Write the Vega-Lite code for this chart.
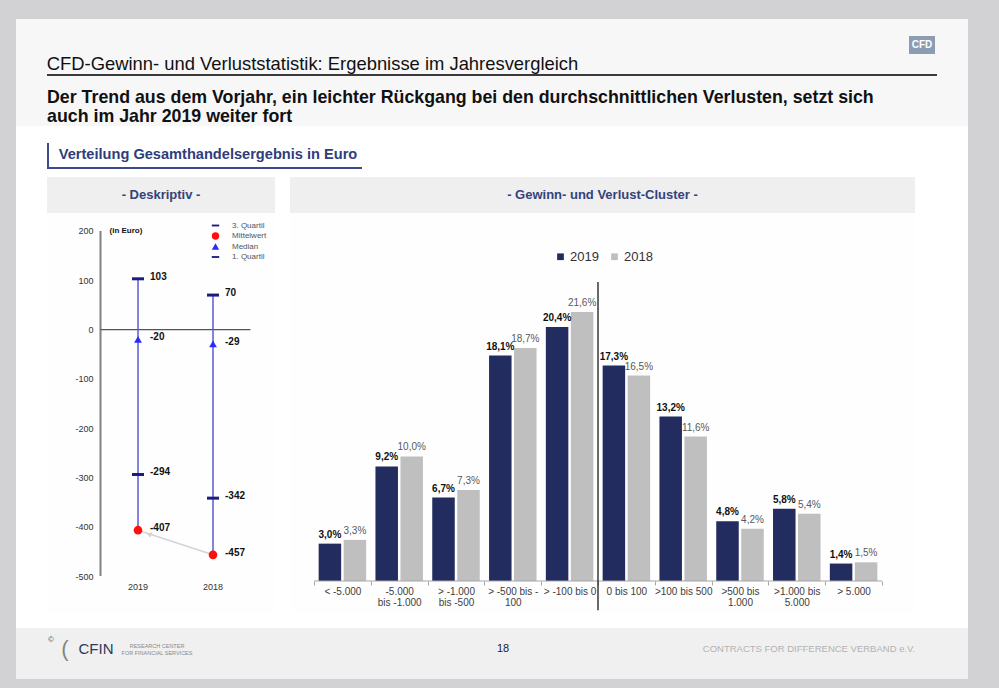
{
  "$schema": "https://vega.github.io/schema/vega-lite/v6.json",
  "background": "#d2d2d4",
  "padding": {"left": 16, "top": 19, "right": 31, "bottom": 9},
  "spacing": 0,
  "resolve": {"scale": {"color": "independent", "shape": "independent"}, "legend": {"color": "independent", "shape": "independent"}},
  "config": {
    "font": "Liberation Sans",
    "concat": {"spacing": 0},
    "view": {"stroke": null},
    "locale": {"number": {"decimal": ",", "thousands": ".", "grouping": [3], "currency": ["", " €"], "minus": "-"}}
  },
  "vconcat": [
    {"width": 952, "height": 17, "data": {"values": []}, "mark": "point", "view": {"fill": "#f7f7f8", "stroke": null}},
    {"spacing": 0, "hconcat": [
      {"width": 893, "height": 18, "data": {"values": []}, "mark": "point", "view": {"fill": "#f7f7f8", "stroke": null}},
      {"width": 26, "height": 18, "data": {"values": [{}]}, "mark": {"type": "text", "text": "CFD", "fontSize": 10, "fontWeight": "bold", "color": "white", "align": "center", "baseline": "middle"}, "view": {"fill": "#8c9db3", "stroke": null}},
      {"width": 33, "height": 18, "data": {"values": []}, "mark": "point", "view": {"fill": "#f7f7f8", "stroke": null}}
    ]},
    {"spacing": 0, "hconcat": [
      {"width": 593, "height": 20, "data": {"values": [{}]}, "mark": {"type": "text", "text": "CFD-Gewinn- und Verluststatistik: Ergebnisse im Jahresvergleich", "fontSize": 18.4, "color": "#111111", "align": "center", "baseline": "middle"}, "view": {"fill": "#f7f7f8", "stroke": null}},
      {"width": 359, "height": 20, "data": {"values": []}, "mark": "point", "view": {"fill": "#f7f7f8", "stroke": null}}
    ]},
    {"spacing": 0, "hconcat": [
      {"width": 31, "height": 2, "data": {"values": []}, "mark": "point", "view": {"fill": "#f7f7f8", "stroke": null}},
      {"width": 890, "height": 2, "data": {"values": []}, "mark": "point", "view": {"fill": "#3a3a3a", "stroke": null}},
      {"width": 31, "height": 2, "data": {"values": []}, "mark": "point", "view": {"fill": "#f7f7f8", "stroke": null}}
    ]},
    {"width": 952, "height": 12, "data": {"values": []}, "mark": "point", "view": {"fill": "#f7f7f8", "stroke": null}},
    {"width": 952, "height": 38, "data": {"values": [{}]}, "mark": {"type": "text", "text": ["Der Trend aus dem Vorjahr, ein leichter Rückgang bei den durchschnittlichen Verlusten, setzt sich", "auch im Jahr 2019 weiter fort"], "fontSize": 17.8, "lineHeight": 18.6, "fontWeight": "bold", "color": "#111111", "align": "left", "baseline": "middle", "dx": -445, "dy": -9}, "view": {"fill": "#f7f7f8", "stroke": null}},
    {"width": 952, "height": 17, "data": {"values": []}, "mark": "point", "view": {"fill": "white", "stroke": null}},
    {"spacing": 0, "hconcat": [
      {"width": 31, "height": 24, "data": {"values": []}, "mark": "point", "view": {"fill": "white", "stroke": null}},
      {"width": 2, "height": 24, "data": {"values": []}, "mark": "point", "view": {"fill": "#3d4b8e", "stroke": null}},
      {"width": 318, "height": 24, "data": {"values": [{}]}, "mark": {"type": "text", "text": "Verteilung Gesamthandelsergebnis in Euro", "fontSize": 14.6, "fontWeight": "bold", "color": "#2f3d7c", "align": "center", "baseline": "middle"}, "view": {"fill": "white", "stroke": null}},
      {"width": 601, "height": 24, "data": {"values": []}, "mark": "point", "view": {"fill": "white", "stroke": null}}
    ]},
    {"spacing": 0, "hconcat": [
      {"width": 31, "height": 2, "data": {"values": []}, "mark": "point", "view": {"fill": "white", "stroke": null}},
      {"width": 315, "height": 2, "data": {"values": []}, "mark": "point", "view": {"fill": "#3d4b8e", "stroke": null}},
      {"width": 606, "height": 2, "data": {"values": []}, "mark": "point", "view": {"fill": "white", "stroke": null}}
    ]},
    {"width": 952, "height": 8, "data": {"values": []}, "mark": "point", "view": {"fill": "white", "stroke": null}},
    {"spacing": 0,
     "resolve": {"scale": {"color": "independent", "shape": "independent"}, "legend": {"color": "independent", "shape": "independent"}},
     "hconcat": [
      {"width": 31, "height": 436, "data": {"values": []}, "mark": "point", "view": {"fill": "white", "stroke": null}},
      {"spacing": 0,
       "resolve": {"scale": {"color": "independent", "shape": "independent"}, "legend": {"color": "independent", "shape": "independent"}},
       "vconcat": [
        {"width": 228, "height": 36, "data": {"values": [{}]}, "mark": {"type": "text", "text": "- Deskriptiv -", "fontSize": 13, "fontWeight": "bold", "color": "#34437a", "align": "center", "baseline": "middle"}, "view": {"fill": "#efefef", "stroke": null}},
        {
          "width": 228, "height": 400,
          "view": {"fill": "#fefefe", "stroke": null},
          "data": {"values": [
            {"jahr": "2019", "kennzahl": "3. Quartil", "wert": 103},
            {"jahr": "2019", "kennzahl": "Mittelwert", "wert": -407},
            {"jahr": "2019", "kennzahl": "Median", "wert": -20},
            {"jahr": "2019", "kennzahl": "1. Quartil", "wert": -294},
            {"jahr": "2018", "kennzahl": "3. Quartil", "wert": 70},
            {"jahr": "2018", "kennzahl": "Mittelwert", "wert": -457},
            {"jahr": "2018", "kennzahl": "Median", "wert": -29},
            {"jahr": "2018", "kennzahl": "1. Quartil", "wert": -342}
          ]},
          "encoding": {
            "x": {"field": "jahr", "type": "nominal", "sort": null,
              "scale": {"domain": ["2019", "2018"], "paddingInner": 0, "paddingOuter": 0.52, "align": 0.686},
              "axis": {"orient": "bottom", "offset": -31, "domain": false, "ticks": false, "tickSize": 0, "labelPadding": 0, "labelAngle": 0, "labelFontSize": 9, "labelColor": "#333333", "title": null}}
          },
          "layer": [
            {
              "data": {"values": [{}]},
              "mark": {"type": "rule", "color": "#808080", "strokeWidth": 2},
              "encoding": {
                "x": {"datum": "2019", "bandPosition": 0},
                "y": {"datum": -500, "scale": {"domain": [-575, 236.5], "nice": false, "zero": false},
                  "axis": {"values": [-500, -400, -300, -200, -100, 0, 100, 200], "orient": "left", "offset": -46, "domain": false, "ticks": false, "tickSize": 0, "grid": false, "labelPadding": 0, "labelFontSize": 9, "labelColor": "#333333", "title": null}},
                "y2": {"datum": 200}
              }
            },
            {
              "data": {"values": [{}]},
              "mark": {"type": "rule", "color": "#555555", "strokeWidth": 1.2},
              "encoding": {
                "x": {"datum": "2019", "bandPosition": 0},
                "x2": {"datum": "2018", "bandPosition": 1},
                "y": {"datum": 0, "scale": {"domain": [-575, 236.5], "nice": false, "zero": false}}
              }
            },
            {
              "transform": [{"filter": "datum.kennzahl == 'Mittelwert'"}],
              "mark": {"type": "line", "color": "#d4d4d4", "strokeWidth": 1.5},
              "encoding": {
                "y": {"field": "wert", "type": "quantitative", "scale": {"domain": [-575, 236.5], "nice": false, "zero": false}}
              }
            },
            {
              "transform": [{"filter": "datum.kennzahl == 'Mittelwert' && datum.jahr == '2019'"}],
              "mark": {"type": "point", "shape": "triangle-left", "filled": true, "color": "#d4d4d4", "opacity": 1, "size": 36, "angle": 18, "xOffset": 11, "yOffset": 4},
              "encoding": {
                "y": {"field": "wert", "type": "quantitative", "scale": {"domain": [-575, 236.5], "nice": false, "zero": false}}
              }
            },
            {
              "mark": {"type": "rule", "color": "#5b5bd6", "strokeWidth": 1.5},
              "encoding": {
                "y": {"aggregate": "max", "field": "wert", "type": "quantitative", "scale": {"domain": [-575, 236.5], "nice": false, "zero": false}},
                "y2": {"aggregate": "min", "field": "wert"}
              }
            },
            {
              "transform": [{"filter": "datum.kennzahl == '3. Quartil' || datum.kennzahl == '1. Quartil'"}],
              "mark": {"type": "point", "filled": true, "opacity": 1, "size": 144},
              "encoding": {
                "y": {"field": "wert", "type": "quantitative", "scale": {"domain": [-575, 236.5], "nice": false, "zero": false}},
                "shape": {"field": "kennzahl", "type": "nominal", "scale": {"domain": ["3. Quartil", "Mittelwert", "Median", "1. Quartil"], "range": ["M-1,-0.25H1V0.25H-1Z", "circle", "triangle-up", "M-1,-0.25H1V0.25H-1Z"]},
                  "legend": {"title": null, "orient": "top-right", "offset": 8, "padding": 0, "labelFontSize": 8, "labelColor": "#555555", "symbolSize": 55, "labelOffset": 12, "rowPadding": 1.5, "symbolOpacity": 1}},
                "color": {"field": "kennzahl", "type": "nominal", "scale": {"domain": ["3. Quartil", "Mittelwert", "Median", "1. Quartil"], "range": ["#1c1c80", "#ff1010", "#2a2aff", "#1c1c80"]},
                  "legend": {"title": null, "orient": "top-right", "offset": 8, "padding": 0, "labelFontSize": 8, "labelColor": "#555555", "symbolSize": 55, "labelOffset": 12, "rowPadding": 1.5, "symbolOpacity": 1}}
              }
            },
            {
              "transform": [{"filter": "datum.kennzahl == 'Median'"}],
              "mark": {"type": "point", "filled": true, "opacity": 1, "size": 60},
              "encoding": {
                "y": {"field": "wert", "type": "quantitative", "scale": {"domain": [-575, 236.5], "nice": false, "zero": false}},
                "shape": {"field": "kennzahl", "type": "nominal"},
                "color": {"field": "kennzahl", "type": "nominal"}
              }
            },
            {
              "transform": [{"filter": "datum.kennzahl == 'Mittelwert'"}],
              "mark": {"type": "point", "filled": true, "opacity": 1, "size": 75},
              "encoding": {
                "y": {"field": "wert", "type": "quantitative", "scale": {"domain": [-575, 236.5], "nice": false, "zero": false}},
                "shape": {"field": "kennzahl", "type": "nominal"},
                "color": {"field": "kennzahl", "type": "nominal"}
              }
            },
            {
              "mark": {"type": "text", "align": "left", "baseline": "middle", "dx": 12, "dy": -2, "fontSize": 10, "fontWeight": "bold", "color": "#111111"},
              "encoding": {
                "y": {"field": "wert", "type": "quantitative", "scale": {"domain": [-575, 236.5], "nice": false, "zero": false}},
                "text": {"field": "wert", "type": "quantitative", "format": "d"}
              }
            },
            {
              "data": {"values": [{}]},
              "mark": {"type": "text", "text": "(in Euro)", "align": "left", "baseline": "middle", "dx": 9, "fontSize": 8, "fontWeight": "bold", "color": "#111111"},
              "encoding": {
                "x": {"datum": "2019", "bandPosition": 0},
                "y": {"datum": 200, "scale": {"domain": [-575, 236.5], "nice": false, "zero": false}}
              }
            }
          ]
        }
      ]},
      {"width": 15, "height": 436, "data": {"values": []}, "mark": "point", "view": {"fill": "white", "stroke": null}},
      {"spacing": 0,
       "resolve": {"scale": {"color": "independent"}, "legend": {"color": "independent"}},
       "vconcat": [
        {"width": 625, "height": 36, "data": {"values": [{}]}, "mark": {"type": "text", "text": "- Gewinn- und Verlust-Cluster -", "fontSize": 13, "fontWeight": "bold", "color": "#34437a", "align": "center", "baseline": "middle"}, "view": {"fill": "#efefef", "stroke": null}},
        {
          "width": 625, "height": 400,
          "view": {"fill": "#fefefe", "stroke": null},
          "data": {"values": [
            {"cluster": "< -5.000", "jahr": "2019", "anteil": 0.030},
            {"cluster": "< -5.000", "jahr": "2018", "anteil": 0.033},
            {"cluster": "-5.000\nbis -1.000", "jahr": "2019", "anteil": 0.092},
            {"cluster": "-5.000\nbis -1.000", "jahr": "2018", "anteil": 0.100},
            {"cluster": "> -1.000\nbis -500", "jahr": "2019", "anteil": 0.067},
            {"cluster": "> -1.000\nbis -500", "jahr": "2018", "anteil": 0.073},
            {"cluster": "> -500 bis -\n100", "jahr": "2019", "anteil": 0.181},
            {"cluster": "> -500 bis -\n100", "jahr": "2018", "anteil": 0.187},
            {"cluster": "> -100 bis 0", "jahr": "2019", "anteil": 0.204},
            {"cluster": "> -100 bis 0", "jahr": "2018", "anteil": 0.216},
            {"cluster": "0 bis 100", "jahr": "2019", "anteil": 0.173},
            {"cluster": "0 bis 100", "jahr": "2018", "anteil": 0.165},
            {"cluster": ">100 bis 500", "jahr": "2019", "anteil": 0.132},
            {"cluster": ">100 bis 500", "jahr": "2018", "anteil": 0.116},
            {"cluster": ">500 bis\n1.000", "jahr": "2019", "anteil": 0.048},
            {"cluster": ">500 bis\n1.000", "jahr": "2018", "anteil": 0.042},
            {"cluster": ">1.000 bis\n5.000", "jahr": "2019", "anteil": 0.058},
            {"cluster": ">1.000 bis\n5.000", "jahr": "2018", "anteil": 0.054},
            {"cluster": "> 5.000", "jahr": "2019", "anteil": 0.014},
            {"cluster": "> 5.000", "jahr": "2018", "anteil": 0.015}
          ]},
          "encoding": {
            "x": {"field": "cluster", "type": "nominal", "sort": null,
              "scale": {"domain": ["< -5.000", "-5.000\nbis -1.000", "> -1.000\nbis -500", "> -500 bis -\n100", "> -100 bis 0", "0 bis 100", ">100 bis 500", ">500 bis\n1.000", ">1.000 bis\n5.000", "> 5.000"], "paddingInner": 0, "paddingOuter": 0.502, "align": 0.421},
              "axis": {"orient": "bottom", "offset": -32, "domain": false, "ticks": true, "tickBand": "extent", "tickSize": 4, "tickColor": "#a6a6a6", "labelPadding": 1, "labelAngle": 0, "labelFontSize": 10, "labelColor": "#404040", "labelLineHeight": 11, "labelOverlap": false, "labelLimit": 0, "labelExpr": "split(datum.label, '\\n')", "title": null}}
          },
          "layer": [
            {
              "mark": {"type": "bar"},
              "encoding": {
                "xOffset": {"field": "jahr", "type": "nominal", "sort": null, "scale": {"domain": ["2019", "2018"], "paddingInner": 0.1, "paddingOuter": 0.186}},
                "y": {"field": "anteil", "type": "quantitative", "scale": {"domain": [-0.0257, 0.2955], "nice": false, "zero": false}, "axis": null},
                "color": {"field": "jahr", "type": "nominal", "scale": {"domain": ["2019", "2018"], "range": ["#222c5e", "#bfbfbf"]},
                  "legend": {"title": null, "orient": "none", "legendX": 264, "legendY": 37, "direction": "horizontal", "padding": 0, "symbolType": "square", "symbolSize": 45, "labelFontSize": 13, "labelColor": "#333333", "labelOffset": 3, "columnPadding": 9}}
              }
            },
            {
              "transform": [{"filter": "datum.jahr == '2019'"}],
              "mark": {"type": "text", "baseline": "bottom", "dy": -4, "fontSize": 10, "fontWeight": "bold", "color": "#111111"},
              "encoding": {
                "xOffset": {"field": "jahr", "type": "nominal", "sort": null, "scale": {"domain": ["2019", "2018"], "paddingInner": 0.1, "paddingOuter": 0.186}},
                "y": {"field": "anteil", "type": "quantitative", "scale": {"domain": [-0.0257, 0.2955], "nice": false, "zero": false}, "axis": null},
                "text": {"field": "anteil", "type": "quantitative", "format": ".1%"}
              }
            },
            {
              "transform": [{"filter": "datum.jahr == '2018'"}],
              "mark": {"type": "text", "baseline": "bottom", "dy": -4, "fontSize": 10, "color": "#595959"},
              "encoding": {
                "xOffset": {"field": "jahr", "type": "nominal", "sort": null, "scale": {"domain": ["2019", "2018"], "paddingInner": 0.1, "paddingOuter": 0.186}},
                "y": {"field": "anteil", "type": "quantitative", "scale": {"domain": [-0.0257, 0.2955], "nice": false, "zero": false}, "axis": null},
                "text": {"field": "anteil", "type": "quantitative", "format": ".1%"}
              }
            },
            {
              "data": {"values": [{}]},
              "mark": {"type": "rule", "color": "#a6a6a6", "strokeWidth": 1},
              "encoding": {
                "x": {"datum": "< -5.000", "bandPosition": 0},
                "x2": {"datum": "> 5.000", "bandPosition": 1},
                "y": {"datum": 0, "scale": {"domain": [-0.0257, 0.2955], "nice": false, "zero": false}, "axis": null}
              }
            },
            {
              "data": {"values": [{}]},
              "mark": {"type": "rule", "color": "#1a1a1a", "strokeWidth": 1.3},
              "encoding": {
                "x": {"datum": "0 bis 100", "bandPosition": 0},
                "y": {"datum": 0.24, "scale": {"domain": [-0.0257, 0.2955], "nice": false, "zero": false}, "axis": null},
                "y2": {"datum": -0.0235}
              }
            }
          ]
        }
      ]},
      {"width": 53, "height": 436, "data": {"values": []}, "mark": "point", "view": {"fill": "white", "stroke": null}}
    ]},
    {"width": 952, "height": 15, "data": {"values": []}, "mark": "point", "view": {"fill": "white", "stroke": null}},
    {"width": 952, "height": 8, "data": {"values": []}, "mark": "point", "view": {"fill": "#f0f0f0", "stroke": null}},
    {"spacing": 0, "hconcat": [
      {"width": 31, "height": 26, "data": {"values": []}, "mark": "point", "view": {"fill": "#f0f0f0", "stroke": null}},
      {"width": 8, "height": 26, "data": {"values": [{}]}, "mark": {"type": "text", "text": "©", "fontSize": 8, "dy": -9, "color": "#555555", "align": "center", "baseline": "middle"}, "view": {"fill": "#f0f0f0", "stroke": null}},
      {"width": 20, "height": 26, "data": {"values": [{}]}, "mark": {"type": "text", "text": "(", "fontSize": 22, "color": "#7d8a80", "align": "center", "baseline": "middle"}, "view": {"fill": "#f0f0f0", "stroke": null}},
      {"width": 42, "height": 26, "data": {"values": [{}]}, "mark": {"type": "text", "text": "CFIN", "fontSize": 15, "color": "#2c3a5c", "align": "center", "baseline": "middle"}, "view": {"fill": "#f0f0f0", "stroke": null}},
      {"width": 80, "height": 26, "data": {"values": [{}]}, "mark": {"type": "text", "text": ["RESEARCH CENTER", "FOR FINANCIAL SERVICES"], "fontSize": 5.5, "lineHeight": 6.5, "dy": -3, "color": "#8a8a8a", "align": "center", "baseline": "middle"}, "view": {"fill": "#f0f0f0", "stroke": null}},
      {"width": 296, "height": 26, "data": {"values": []}, "mark": "point", "view": {"fill": "#f0f0f0", "stroke": null}},
      {"width": 20, "height": 26, "data": {"values": [{}]}, "mark": {"type": "text", "text": "18", "fontSize": 11, "color": "#222222", "align": "center", "baseline": "middle"}, "view": {"fill": "#f0f0f0", "stroke": null}},
      {"width": 187, "height": 26, "data": {"values": []}, "mark": "point", "view": {"fill": "#f0f0f0", "stroke": null}},
      {"width": 218, "height": 26, "data": {"values": [{}]}, "mark": {"type": "text", "text": "CONTRACTS FOR DIFFERENCE VERBAND e.V.", "fontSize": 9.5, "color": "#b2b2b2", "align": "center", "baseline": "middle"}, "view": {"fill": "#f0f0f0", "stroke": null}},
      {"width": 50, "height": 26, "data": {"values": []}, "mark": "point", "view": {"fill": "#f0f0f0", "stroke": null}}
    ]},
    {"width": 952, "height": 17, "data": {"values": []}, "mark": "point", "view": {"fill": "#f0f0f0", "stroke": null}}
  ]
}
